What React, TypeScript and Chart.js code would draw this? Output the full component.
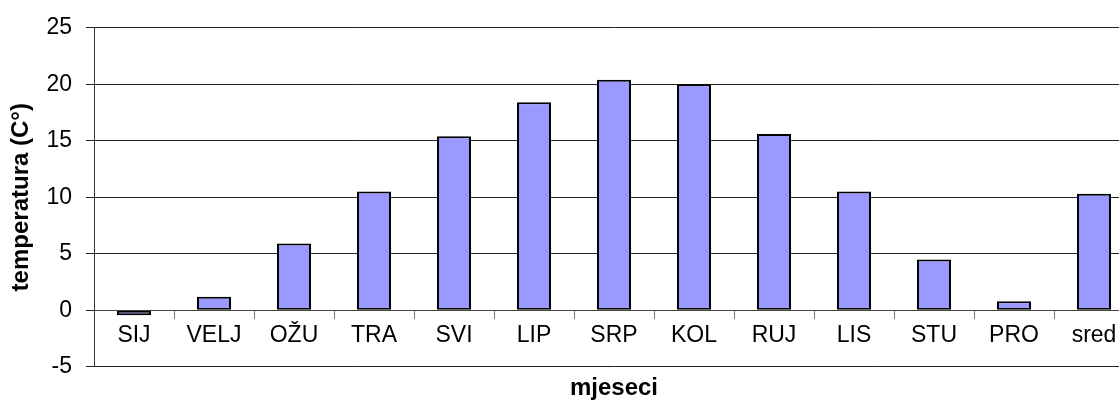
import React, { useEffect, useRef } from "react";
import { Chart, registerables } from "chart.js";

Chart.register(...registerables);

const categories = ["SIJ", "VELJ", "OŽU", "TRA", "SVI", "LIP", "SRP", "KOL", "RUJ", "LIS", "STU", "PRO", "sred"];
const temperatures = [-0.45, 1.2, 5.9, 10.5, 15.4, 18.4, 20.4, 20.0, 15.6, 10.5, 4.5, 0.8, 10.3];
const yMin = -5;
const yMax = 25;
const yStep = 5;
const yTitle = "temperatura (C°)";
const xTitle = "mjeseci";

export default function App() {
  const ref = useRef<HTMLCanvasElement | null>(null);

  useEffect(() => {
    if (!ref.current) return;
    const font = "'Liberation Sans', Arial, sans-serif";
    const chart = new Chart(ref.current, {
      type: "bar",
      data: {
        labels: categories,
        datasets: [
          {
            data: temperatures,
            backgroundColor: "#9999FF",
            borderColor: "#000000",
            borderWidth: 2,
            borderSkipped: false,
            barPercentage: 0.425,
            categoryPercentage: 1,
          },
        ],
      },
      options: {
        responsive: false,
        animation: false,
        layout: { padding: { top: 26, left: 0, right: 0, bottom: 0 } },
        plugins: {
          legend: { display: false },
          tooltip: { enabled: false },
          title: {
            display: true,
            text: xTitle,
            position: "bottom",
            fullSize: false,
            color: "#000",
            font: { family: font, size: 24, weight: "bold" },
            padding: { top: 7.5, bottom: 0 },
          },
        },
        scales: {
          x: {
            type: "category",
            position: { y: 0 },
            offset: true,
            grid: {
              display: true,
              drawOnChartArea: false,
              drawTicks: true,
              tickLength: 8,
              color: "#777",
              offset: true,
            },
            border: { display: true, color: "#444", width: 1 },
            ticks: {
              color: "#000",
              font: { family: font, size: 23 },
              padding: 4,
              maxRotation: 0,
              autoSkip: false,
            },
            afterFit: (scale: any) => {
              scale.height = 0;
            },
          },
          y: {
            type: "linear",
            position: "left",
            min: yMin,
            max: yMax,
            grid: {
              color: "#222",
              lineWidth: 1,
              drawTicks: true,
              tickLength: 8,
            },
            border: { display: true, color: "#333", width: 1 },
            ticks: {
              stepSize: yStep,
              color: "#000",
              font: { family: font, size: 23 },
              padding: 14,
            },
            title: {
              display: true,
              text: yTitle,
              color: "#000",
              font: { family: font, size: 24, weight: "bold" },
              padding: { top: 7, bottom: 0 },
            },
            afterFit: (scale: any) => {
              scale.width = 94;
            },
          },
        },
      },
    });
    return () => chart.destroy();
  }, []);

  return (
    <div
      style={{
        position: "fixed",
        left: 0,
        top: 0,
        width: 1119,
        height: 403,
        overflow: "hidden",
        background: "#fff",
      }}
    >
      <canvas ref={ref} width={1134} height={403} style={{ display: "block" }} />
    </div>
  );
}
